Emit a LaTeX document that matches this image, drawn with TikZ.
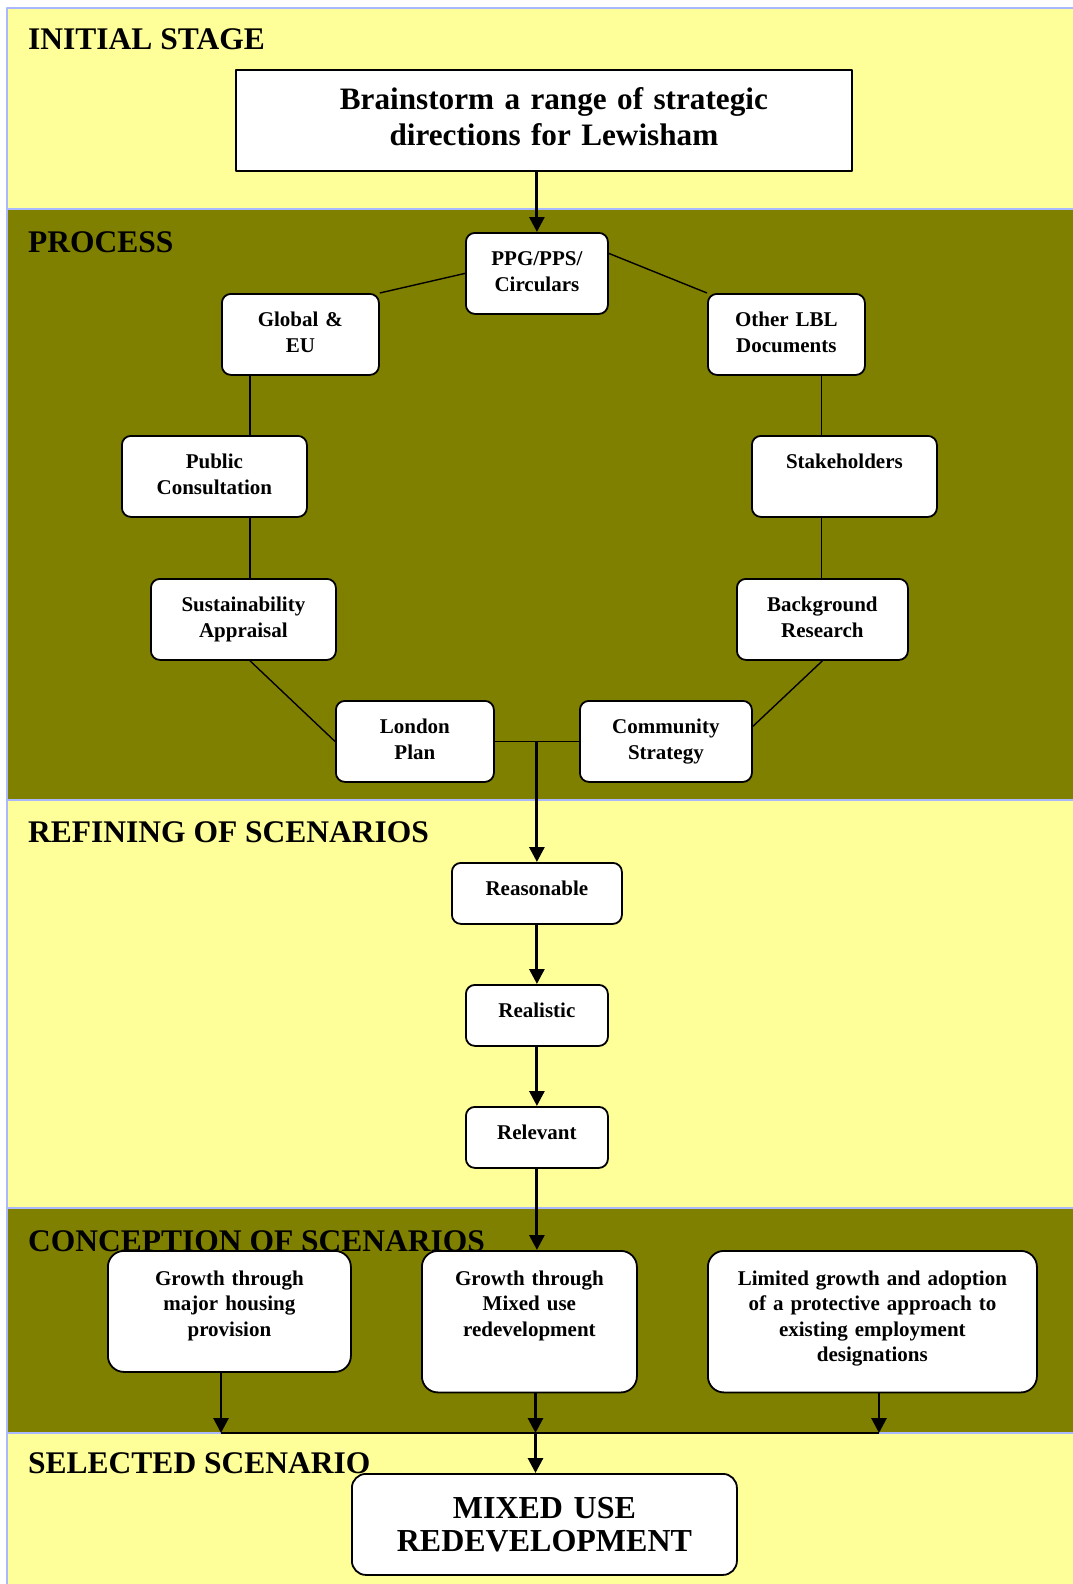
\documentclass[tikz,border=0pt]{standalone}
\usepackage{fontspec}
\setmainfont{Liberation Serif}
\usepackage{tikz}
\usetikzlibrary{arrows.meta}
\definecolor{paleyellow}{RGB}{255,255,153}
\definecolor{olivebg}{RGB}{128,128,0}
\definecolor{bandline}{RGB}{170,185,255}
\tikzset{
  stage/.style={anchor=base west,inner sep=0pt,font=\fontsize{31.5}{36}\selectfont\bfseries},
  procbox/.style={draw,fill=white,line width=1.8pt,rounded corners=9pt,anchor=north west,align=center,
    inner xsep=3pt,inner ysep=0pt,text height=33pt,text depth=48pt,font=\fontsize{21}{25.3}\selectfont\bfseries},
  refbox/.style={procbox,text depth=28pt},
  scenbox/.style={procbox,rounded corners=16pt,text height=34.5pt,text depth=107pt},
  arr/.style={line width=2.9pt,-{Triangle[width=15pt,length=15pt]}},
  link/.style={line width=1.4pt}
}
\begin{document}
\begin{tikzpicture}[x=1pt,y=-1pt,join=round] % stages of the scenario work
       \useasboundingbox (0,0) rectangle (1072,1584);
       \filldraw[fill=paleyellow,draw=bandline,line width=1.2pt](7,8) rectangle (1074,209);
       \filldraw[fill=olivebg,draw=bandline,line width=1.2pt](7,209) rectangle (1074,800);
       \filldraw[fill=paleyellow,draw=bandline,line width=1.2pt](7,800) rectangle (1074,1208);
       \filldraw[fill=olivebg,draw=bandline,line width=1.2pt](7,1208) rectangle (1074,1433);
       \filldraw[fill=paleyellow,draw=bandline,line width=1.2pt](7,1433) rectangle (1074,1590);
       \node[stage] (s1) at (28,50) {INITIAL STAGE};
       \node[stage] (s2) at (28,252) {PROCESS};
       \node[stage] (s3) at (28,842) {REFINING OF SCENARIOS};
       \node[stage] (s4) at (28,1251) {CONCEPTION OF SCENARIOS};
       \node[stage] (s5) at (28,1473) {SELECTED SCENARIO};
       \node[procbox,rounded corners=0pt,text width=610pt,text height=39.5pt,text depth=61.5pt,
             font=\fontsize{31.2}{36.4}\selectfont\bfseries] (brain) at (235,69)
             {\hspace*{20pt}Brainstorm a range of strategic\\\hspace*{20pt}directions for Lewisham};
       % process ring
       \node[procbox,text width=136pt] (ppg) at (465,232) {PPG/PPS/\\Circulars};
       \node[procbox,text width=151pt] (global) at (221,293) {Global \&\\EU};
       \node[procbox,text width=151pt] (other) at (707,293) {Other LBL\\Documents};
       \node[procbox,text width=179pt] (public) at (121,435) {Public\\Consultation};
       \node[procbox,text width=179pt] (stake) at (751,435) {Stakeholders};
       \node[procbox,text width=179pt] (sust) at (150,578) {Sustainability\\Appraisal};
       \node[procbox,text width=165pt] (backg) at (736,578) {Background\\Research};
       \node[procbox,text width=152pt] (london) at (335,700) {London\\Plan};
       \node[procbox,text width=166pt] (commun) at (579,700) {Community\\Strategy};
       \coordinate (lcol) at (250,0);
       \coordinate (rcol) at (821.5,0);
       \draw[link] (ppg.west) -- (global.north east);
       \draw[link] ([yshift=20pt]ppg.east) -- (other.north west);
       \draw[link] (global.south -| lcol) -- (public.north -| lcol);
       \draw[link] (public.south -| lcol) -- (sust.north -| lcol);
       \draw[link] (other.south -| rcol) -- (stake.north -| rcol);
       \draw[link] (stake.south -| rcol) -- (backg.north -| rcol);
       \draw[link] (sust.south -| lcol) -- (london.west);
       \draw[link] (backg.south) -- ([yshift=15pt]commun.east);
       \draw[link] (london.east) -- (commun.west);
       % refining
       \node[refbox,text width=164pt] (reas) at (451,862) {Reasonable};
       \node[refbox,text width=136pt] (real) at (465,984) {Realistic};
       \node[refbox,text width=136pt] (rel) at (465,1106) {Relevant};
       % conception
       \node[scenbox,text width=237pt,text depth=86.5pt] (housing) at (107,1250) {Growth through\\major housing\\provision};
       \node[scenbox,text width=209pt] (mixed) at (421,1250) {Growth through\\Mixed use\\redevelopment};
       \node[scenbox,text width=323pt] (limited) at (707,1250) {Limited growth and adoption\\of a protective approach to\\existing employment\\designations};
       \node[procbox,rounded corners=14pt,text width=379pt,text height=45pt,text depth=56pt,
             font=\fontsize{32}{32.6}\selectfont\bfseries] (final) at (351,1473) {MIXED USE\\REDEVELOPMENT};
       \coordinate (hl) at (221,1433);
       \coordinate (hm) at (535.5,1433);
       \coordinate (hr) at (879,1433);
       \draw[arr] (brain.south -| ppg.north) -- (ppg.north);
       \draw[arr] (london.east -| reas.north) -- (reas.north);
       \draw[arr] (reas.south) -- (real.north);
       \draw[arr] (real.south) -- (rel.north);
       \draw[arr] (rel.south) -- (rel.south |- mixed.north);
       \draw[arr] (housing.south -| hl) -- (hl);
       \draw[arr] (mixed.south -| hm) -- (hm);
       \draw[arr] (limited.south -| hr) -- (hr);
       \draw[line width=1.8pt] (hl) -- (hr);
       \draw[arr] (hm) -- (hm |- final.north);
\end{tikzpicture}
\end{document}
